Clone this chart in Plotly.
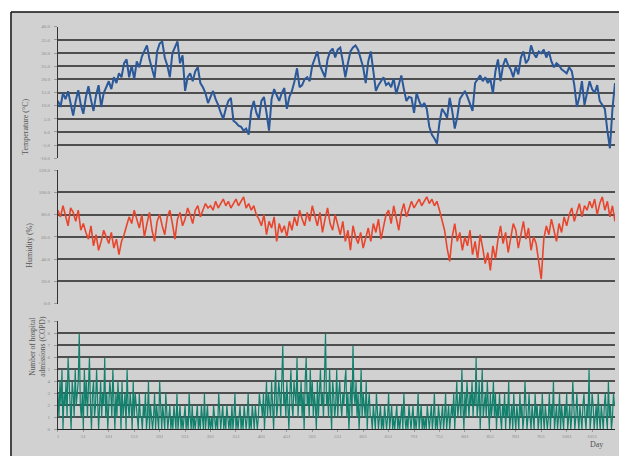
import plotly.graph_objects as go

W, H = 619, 459

# Daily series sampled along the 1096-day study period
temp_days = list(range(1, 1097, 5))
temperature = [
    11.8, 9.5, 14.8, 12.5, 15.5, 10.3, 6.2, 11.8, 15.9, 10.3,
    6.9, 13.3, 17.4, 12.2, 8.0, 14.0, 17.8, 9.5, 14.8, 17.0,
    19.3, 16.3, 20.8, 18.6, 22.3, 20.8, 26.1, 27.6, 20.8, 25.3,
    20.1, 26.8, 24.6, 28.7, 30.6, 32.9, 27.6, 23.8, 20.4, 30.6,
    33.6, 34.4, 28.3, 25.3, 20.8, 29.9, 32.1, 34.4, 26.1, 29.1,
    15.6, 20.8, 22.3, 19.3, 23.1, 24.6, 18.6, 17.0, 14.8, 11.0,
    13.3, 15.6, 12.5, 10.3, 7.3, 5.0, 8.8, 11.8, 13.0, 4.3,
    3.5, 2.4, 2.0, 0.5, 1.3, -1.0, 8.0, 11.8, 7.3, 5.0,
    11.8, 13.3, 7.3, 0.5, 12.5, 16.3, 14.0, 11.8, 14.8, 16.7,
    8.8, 13.3, 15.6, 19.3, 24.2, 17.0, 17.8, 20.1, 20.8, 19.3,
    25.3, 28.3, 30.6, 25.3, 23.1, 20.8, 27.6, 30.6, 31.7, 28.3,
    31.3, 32.1, 26.8, 20.8, 26.1, 30.6, 32.1, 32.9, 31.3, 27.6,
    24.6, 18.6, 26.8, 30.6, 22.3, 15.6, 17.8, 19.3, 20.8, 17.8,
    18.6, 17.0, 20.4, 14.4, 17.8, 21.5, 16.3, 11.8, 13.3, 13.0,
    7.3, 14.8, 11.8, 9.5, 11.0, 8.8, 2.0, -1.0, -2.5, -4.4,
    3.5, 8.8, 7.3, 5.4, 13.0, 8.0, 1.3, 5.8, 12.5, 14.0,
    15.6, 13.3, 11.0, 8.0, 18.6, 20.1, 21.5, 19.3, 20.8, 18.6,
    20.1, 14.8, 23.1, 27.6, 19.3, 25.3, 28.0, 25.3, 23.8, 20.8,
    24.9, 21.9, 28.3, 30.6, 26.1, 27.6, 32.9, 29.9, 28.3, 30.6,
    29.9, 31.3, 28.3, 30.6, 26.8, 24.6, 26.1, 25.3, 23.8, 23.1,
    22.3, 24.6, 23.1, 17.8, 9.5, 13.3, 19.3, 10.3, 14.8, 19.3,
    16.3, 14.8, 17.8, 11.8, 10.3, 8.8, 0.5, -6.2, 8.8, 18.6,
]

humidity = [
    84, 78, 88, 80, 70, 86, 82, 74, 84, 66,
    72, 64, 58, 70, 52, 62, 48, 56, 66, 60,
    54, 64, 50, 58, 44, 56, 62, 70, 78, 72,
    84, 76, 68, 80, 60, 72, 82, 66, 56, 74,
    80, 70, 62, 78, 84, 72, 58, 76, 82, 70,
    76, 86, 80, 72, 84, 88, 78, 84, 90, 86,
    88, 84, 92, 86, 90, 94, 88, 92, 86, 90,
    94, 88, 92, 96, 86, 90, 84, 88, 80, 76,
    70, 80, 62, 74, 68, 78, 56, 72, 64, 70,
    60, 74, 66, 78, 70, 84, 76, 70, 82, 74,
    88, 78, 70, 82, 64, 76, 86, 72, 66, 80,
    72, 62, 74, 56, 66, 48, 70, 60, 54, 64,
    50, 60, 68, 56, 72, 64, 76, 58, 70, 80,
    84, 72, 88, 76, 66, 82, 90, 78, 86, 92,
    86, 90, 94, 88, 92, 96, 90, 94, 88, 92,
    84, 74, 66, 50, 38, 60, 72, 56, 64, 48,
    60, 52, 66, 44, 56, 40, 62, 50, 36, 46,
    30, 52, 40, 58, 70, 54, 64, 46, 60, 72,
    66, 50, 62, 74, 58, 68, 48, 60, 54, 40,
    22, 58, 70, 62, 76, 66, 56, 72, 64, 78,
    70, 80, 86, 74, 82, 90, 78, 88, 84, 92,
    86, 94, 80, 90, 96, 84, 92, 78, 88, 74,
]

copd_days = list(range(1, 1097, 2))
copd = [
    # first winter
    3, 1, 4, 2, 5, 0, 3, 2, 4, 1, 6, 3, 2, 0, 4, 3, 1, 5, 2, 3,
    4, 8, 2, 1, 3, 0, 5, 2, 4, 1, 3, 6, 2, 0, 3, 4, 1, 2, 5, 3,
    0, 2, 4, 1, 3, 2, 6, 1, 3, 0, 2, 4, 3, 1, 5, 2, 0, 3, 1, 4,
    2, 3, 0, 4, 1, 2, 3, 0, 5, 2, 1, 3, 2, 0, 4, 1, 3, 2, 1, 0,
    3, 1,
    # first summer
    1, 0, 2, 1, 3, 0, 1, 4, 0, 2, 1, 0, 1, 3, 0, 2, 1, 0, 4, 1,
    0, 2, 1, 0, 3, 1, 0, 1, 2, 0, 1, 0, 2, 1, 0, 3, 0, 1, 2, 0,
    1, 0, 1, 2, 0, 1, 0, 3, 1, 0, 2, 0, 1, 0, 1, 2, 0, 1, 0, 2,
    1, 0, 3, 0, 1, 2, 0, 1, 0, 1, 0, 2, 1, 0, 1, 0, 3, 1, 0, 1,
    2, 0, 1, 0, 2, 1, 0, 1, 0, 2, 0, 1, 3, 0, 1, 0, 1, 2, 0, 1,
    0, 2, 1, 0, 1, 3, 0, 1, 0, 2, 1, 0, 2, 1, 0, 1, 3, 2,
    # second winter
    2, 1, 3, 0, 2, 4, 1, 3, 2, 1, 4, 2, 0, 3, 5, 1, 2, 4, 3, 1,
    5, 7, 2, 3, 1, 4, 2, 0, 3, 5, 2, 1, 4, 3, 2, 6, 1, 3, 2, 4,
    1, 3, 0, 4, 6, 2, 3, 1, 5, 2, 4, 1, 3, 2, 0, 4, 1, 3, 5, 2,
    3, 1, 4, 8, 2, 3, 1, 5, 2, 0, 4, 3, 1, 2, 5, 1, 3, 4, 2, 1,
    3, 2, 4, 5, 1, 3, 0, 2, 4, 1, 7, 3, 2, 4, 1, 3, 0, 2, 5, 1,
    3, 2, 1, 4, 0, 2, 3, 1,
    # second summer
    1, 0, 2, 1, 0, 3, 1, 0, 1, 2, 0, 1, 0, 2, 1, 0, 1, 3, 0, 1,
    2, 0, 1, 0, 1, 2, 0, 1, 0, 1, 2, 0, 3, 1, 0, 1, 0, 2, 1, 0,
    1, 2, 0, 1, 0, 1, 3, 0, 1, 2, 0, 1, 0, 1, 0, 2, 1, 0, 1, 2,
    0, 1, 3, 0, 1, 0, 2, 1, 0, 1, 2, 0, 1, 3, 0, 1, 2, 0, 1,
    # third winter
    2, 1, 3, 0, 2, 4, 1, 2, 3, 1, 5, 2, 0, 3, 1, 4, 2, 1, 3, 2,
    4, 1, 3, 2, 6, 1, 2, 4, 0, 3, 5, 1, 2, 3, 1, 4, 2, 0, 3, 1,
    2, 4, 1, 3, 0, 2, 1, 3,
    1, 0, 2, 1, 3, 0, 2, 1, 4, 0, 1, 2, 0, 3, 1, 0, 2, 1, 0, 3,
    1, 2, 0, 1, 4, 2, 0, 1, 3, 1, 0, 2, 1, 0, 3, 1, 2, 0, 1, 2,
    0, 3, 1, 0, 2, 1, 0, 1, 3, 0, 2, 1, 4, 0, 1, 2, 0, 1, 3, 0,
    2, 1, 0, 2, 1, 3, 0, 1, 2, 0, 1, 4, 2, 0, 1, 3, 1, 0, 2, 1,
    0, 2, 3, 1, 0, 2, 1, 5, 0, 1, 3, 2, 0, 1, 2, 0, 3, 1, 0, 2,
    1, 0, 2, 3, 1, 0, 4, 1, 2, 0, 1, 3, 2,
]

day_ticks = list(range(1, 1097, 50))
temp_ticks = [-10, -5, 0, 5, 10, 15, 20, 25, 30, 35, 40]
hum_ticks = [0, 20, 40, 60, 80, 100, 120]
copd_ticks = list(range(0, 10))


def px_x(p):
    return p / W


def px_y(p):
    return 1 - p / H


BG = "#d1d1d1"
GRID = "#4e4e4e"
TICKFONT = dict(family="Liberation Serif", size=5, color="#8a8a8a")
TITLEFONT = dict(family="Liberation Serif", size=8, color="#555555")

fig = go.Figure()
fig.add_trace(go.Scatter(x=temp_days, y=temperature, mode="lines", xaxis="x", yaxis="y",
                         line=dict(color="#2b5898", width=2.0), hoverinfo="skip"))
fig.add_trace(go.Scatter(x=temp_days, y=humidity, mode="lines", xaxis="x", yaxis="y2",
                         line=dict(color="#e8452c", width=1.6), hoverinfo="skip"))
fig.add_trace(go.Scatter(x=copd_days, y=copd, mode="lines", xaxis="x", yaxis="y3",
                         line=dict(color="#11806c", width=1.2), hoverinfo="skip"))

yaxis_common = dict(
    anchor="x", showgrid=True, gridcolor=GRID, gridwidth=1.5, zeroline=False,
    showline=True, linecolor="#333333", linewidth=1, ticks="outside", ticklen=3,
    tickcolor="#999999", tickfont=TICKFONT, ticklabelstandoff=3,
)

fig.update_layout(
    width=W, height=H, margin=dict(l=0, r=0, t=0, b=0),
    paper_bgcolor="white", plot_bgcolor="rgba(0,0,0,0)", showlegend=False,
    xaxis=dict(
        domain=[px_x(57), px_x(615)], anchor="y3", range=[1, 1096],
        tickvals=day_ticks, ticktext=[str(d) for d in day_ticks],
        showgrid=False, zeroline=False, showline=True, linecolor="#222222", linewidth=1.2,
        ticks="outside", ticklen=2, tickcolor="#999999", tickfont=TICKFONT,
    ),
    yaxis=dict(domain=[px_y(158), px_y(25)], range=[-10, 40], tickvals=temp_ticks,
               ticktext=[f"{v:.1f}" for v in temp_ticks], **yaxis_common),
    yaxis2=dict(domain=[px_y(305), px_y(170)], range=[0, 120], tickvals=hum_ticks,
                ticktext=[f"{v:.1f}" for v in hum_ticks], **yaxis_common),
    yaxis3=dict(domain=[px_y(432), px_y(323)], range=[0, 9], tickvals=copd_ticks,
                ticktext=[str(v) for v in copd_ticks], **yaxis_common),
    shapes=[
        dict(type="rect", xref="paper", yref="paper", x0=px_x(10), x1=1, y0=0, y1=px_y(10),
             fillcolor=BG, line=dict(width=0), layer="below"),
        dict(type="line", xref="paper", yref="paper", x0=px_x(10), x1=1, y0=px_y(10), y1=px_y(10),
             line=dict(color="#111111", width=1.5), layer="below"),
        dict(type="line", xref="paper", yref="paper", x0=px_x(10), x1=px_x(10), y0=0, y1=px_y(10),
             line=dict(color="#111111", width=1.5), layer="below"),
    ],
    annotations=[
        dict(text="Temperature (°C)", x=px_x(18), y=px_y(95), xref="paper", yref="paper",
             textangle=-90, showarrow=False, font=TITLEFONT),
        dict(text="Humidity (%)", x=px_x(22), y=px_y(246), xref="paper", yref="paper",
             textangle=-90, showarrow=False, font=TITLEFONT),
        dict(text="Number of hospital<br>admissions (COPD)", x=px_x(25), y=px_y(381),
             xref="paper", yref="paper", textangle=-90, showarrow=False,
             font=dict(family="Liberation Serif", size=7.5, color="#555555")),
        dict(text="Day", x=px_x(605), y=px_y(454), xref="paper", yref="paper",
             showarrow=False, font=TITLEFONT),
    ],
)

fig.write_html("out.html")
